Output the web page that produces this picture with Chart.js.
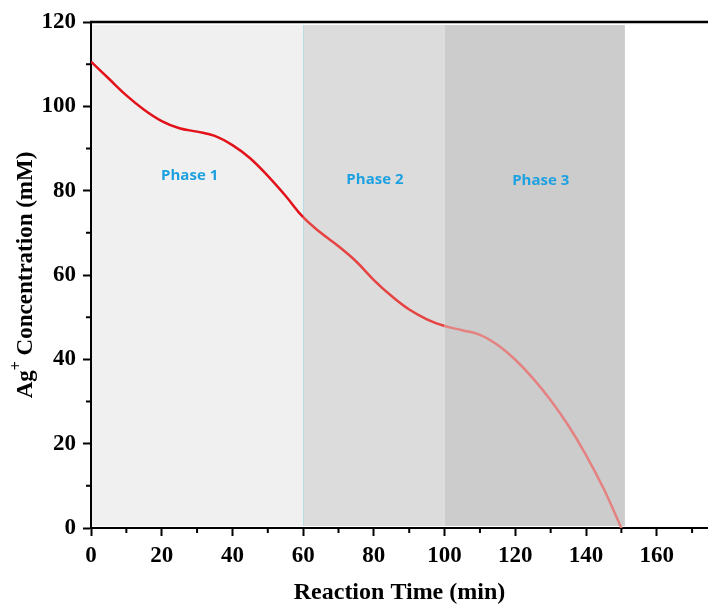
<!DOCTYPE html>
<html>
<head>
<meta charset="utf-8">
<script src="https://cdn.jsdelivr.net/npm/chart.js@4.4.1/dist/chart.umd.min.js"></script>
<style>
  html, body { margin: 0; padding: 0; background: #fff; }
  #wrap { width: 708px; height: 607px; }
</style>
</head>
<body>
<div id="wrap"><canvas id="grafico"></canvas></div>
<script>
// reaction time (min) and Ag+ concentration (mM)
const tempos = [0, 5, 10, 15, 20, 25, 30, 35, 40, 45, 50, 55, 60, 65, 70, 75, 80, 85, 90, 95, 100,
                105, 110, 115, 120, 125, 130, 135, 140, 145, 150];
const concentracao = [110.6, 106.6, 102.6, 99.2, 96.5, 94.8, 94, 93, 90.8, 87.7, 83.5, 78.8, 73.7, 70, 66.8,
                      63.2, 58.8, 55, 51.8, 49.5, 47.9, 46.9, 45.8, 43.4, 39.9, 35.5, 30.3, 24.3, 17.3, 9.3, 0];

// phases: names, start/end (min), label position (min, mM)
const fases = ['Phase 1', 'Phase 2', 'Phase 3'];
const faseInicio = [0, 60, 100];
const faseFim = [60, 100, 151];
const faseRotuloX = [27.9, 80.3, 127.2];
const faseRotuloY = [83.5, 82.6, 82.3];

const xTicks = [0, 20, 40, 60, 80, 100, 120, 140, 160];
const yTicks = [0, 20, 40, 60, 80, 100, 120];

const corFundo = ['#f0f0f0', '#dcdcdc', '#cccccc'];
const corLinha = ['#e2111a', '#e64343', '#e48282'];

const fonteEixo = '"Liberation Serif", "Times New Roman", serif';

// shaded phase bands + labels
const fasesPlugin = {
    id: 'fases',
    beforeDatasetsDraw(chart) {
        const { ctx, chartArea, scales: { x, y } } = chart;
        ctx.save();
        const topo = chartArea.top + 3;
        const base = chartArea.bottom - 2;
        fases.forEach((f, i) => {
            const x0 = x.getPixelForValue(faseInicio[i]);
            const x1 = x.getPixelForValue(faseFim[i]);
            ctx.fillStyle = corFundo[i];
            ctx.fillRect(x0 + (i === 0 ? 1 : 0), topo, x1 - x0, base - topo);
        });
        // thin boundary between phase 1 and 2
        const xb = Math.round(x.getPixelForValue(faseInicio[1])) + 0.5;
        ctx.strokeStyle = '#b9dbe2';
        ctx.lineWidth = 1;
        ctx.beginPath();
        ctx.moveTo(xb, topo);
        ctx.lineTo(xb, base);
        ctx.stroke();

        ctx.fillStyle = '#1da1e0';
        ctx.font = 'bold 15px "Open Sans", "Noto Sans", sans-serif';
        ctx.textAlign = 'center';
        ctx.textBaseline = 'middle';
        fases.forEach((f, i) => {
            ctx.fillText(f, x.getPixelForValue(faseRotuloX[i]), y.getPixelForValue(faseRotuloY[i]));
        });
        ctx.restore();
    },
    afterDraw(chart) {
        const { ctx, chartArea, scales: { x, y } } = chart;
        ctx.save();
        // top frame line
        ctx.strokeStyle = '#000';
        ctx.lineWidth = 2.5;
        ctx.beginPath();
        ctx.moveTo(chartArea.left - 1, chartArea.top);
        ctx.lineTo(chartArea.right, chartArea.top);
        ctx.stroke();

        // minor ticks
        ctx.lineWidth = 2;
        ctx.beginPath();
        for (let v = 10; v < x.max; v += 20) {
            const px = x.getPixelForValue(v);
            ctx.moveTo(px, chartArea.bottom);
            ctx.lineTo(px, chartArea.bottom + 5);
        }
        for (let v = 10; v < y.max; v += 20) {
            const py = y.getPixelForValue(v);
            ctx.moveTo(chartArea.left, py);
            ctx.lineTo(chartArea.left - 5, py);
        }
        ctx.stroke();

        // y title with superscript
        const cx = 32;
        const cy = (chartArea.top + chartArea.bottom) / 2;
        const grande = 'bold 23px ' + fonteEixo;
        const pequeno = 'bold 16px ' + fonteEixo;
        ctx.font = grande;
        const wAg = ctx.measureText('Ag').width;
        const wResto = ctx.measureText(' Concentration (mM)').width;
        ctx.font = pequeno;
        const wMais = ctx.measureText('+').width;
        const total = wAg + wMais + wResto;
        ctx.translate(cx, cy);
        ctx.rotate(-Math.PI / 2);
        ctx.fillStyle = '#000';
        ctx.textBaseline = 'alphabetic';
        ctx.textAlign = 'left';
        let pos = -total / 2;
        ctx.font = grande;
        ctx.fillText('Ag', pos, 0);
        pos += wAg;
        ctx.font = pequeno;
        ctx.fillText('+', pos, -11);
        pos += wMais;
        ctx.font = grande;
        ctx.fillText(' Concentration (mM)', pos, 0);
        ctx.restore();
    }
};

function corDoTrecho(ctx) {
    const x0 = ctx.p0.parsed.x;
    if (x0 < faseInicio[1]) return corLinha[0];
    if (x0 < faseInicio[2]) return corLinha[1];
    return corLinha[2];
}

const pontos = tempos.map((t, i) => ({ x: t, y: concentracao[i] }));

new Chart(document.getElementById('grafico'), {
    type: 'line',
    data: {
        datasets: [{
            data: pontos,
            borderColor: corLinha[0],
            borderWidth: 2.5,
            pointRadius: 0,
            tension: 0.4,
            segment: { borderColor: corDoTrecho }
        }]
    },
    options: {
        responsive: true,
        maintainAspectRatio: false,
        animation: false,
        layout: { padding: { top: 22, right: 0, left: 0, bottom: 0 } },
        plugins: { legend: { display: false }, tooltip: { enabled: false } },
        scales: {
            x: {
                type: 'linear',
                min: 0,
                max: 174.5,
                afterFit: s => { s.height = 79; },
                afterBuildTicks: s => { s.ticks = xTicks.map(v => ({ value: v })); },
                grid: { drawOnChartArea: false, tickLength: 8, tickWidth: 2, tickColor: '#000' },
                border: { color: '#000', width: 2 },
                ticks: {
                    color: '#000',
                    padding: 6,
                    maxRotation: 0,
                    font: { family: fonteEixo, size: 23, weight: 'bold' },
                    callback: v => String(v)
                },
                title: {
                    display: true,
                    text: 'Reaction Time (min)',
                    color: '#000',
                    font: { family: fonteEixo, size: 24, weight: 'bold' },
                    padding: { top: 0, bottom: 0 }
                }
            },
            y: {
                min: 0,
                max: 120,
                afterFit: s => { s.width = 91; },
                afterBuildTicks: s => { s.ticks = yTicks.map(v => ({ value: v })); },
                grid: { drawOnChartArea: false, tickLength: 8, tickWidth: 2, tickColor: '#000' },
                border: { color: '#000', width: 2 },
                ticks: {
                    color: '#000',
                    padding: 7,
                    font: { family: fonteEixo, size: 23, weight: 'bold' },
                    callback: v => String(v)
                }
            }
        }
    },
    plugins: [fasesPlugin]
});
</script>
</body>
</html>
